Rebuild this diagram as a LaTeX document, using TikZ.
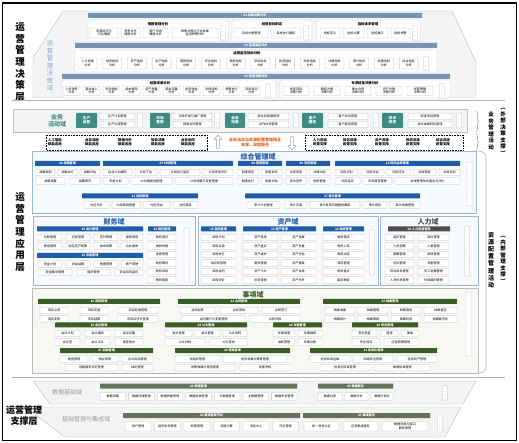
\documentclass[tikz,border=0pt]{standalone}
\usepackage{fontspec}
\setmainfont{Noto Sans CJK SC}
\usepackage{tikz}
\usetikzlibrary{decorations.pathreplacing, shapes.arrows}
\definecolor{steel}{RGB}{118, 146, 180}
\definecolor{deepblue}{RGB}{32, 92, 168}
\definecolor{darkgreen}{RGB}{58, 92, 38}
\definecolor{olivegray}{RGB}{104, 112, 92}
\definecolor{tealbg}{RGB}{62, 140, 132}
\definecolor{hrgray}{RGB}{78, 78, 78}
\definecolor{frameblue}{RGB}{150, 182, 218}
\definecolor{lightblue}{RGB}{128, 164, 206}
\definecolor{orangetext}{RGB}{226, 96, 26}
\definecolor{paleblue}{RGB}{246, 249, 253}
\definecolor{palegreen}{RGB}{247, 248, 243}
\definecolor{palegray}{RGB}{243, 244, 246}
\newcommand{\cellfont}{\fontsize{3.1}{3.6}\selectfont}
\newcommand{\grpfont}{\fontsize{3.4}{4}\selectfont\bfseries}
\newcommand{\morefont}{\fontsize{4}{4}\selectfont}
\tikzset{
  cell/.style={draw=gray!50, fill=white, rounded corners=0.6pt, line width=0.3pt, inner sep=0pt, align=center, font=\cellfont},
  hdr/.style={inner sep=0pt, minimum height=5, text=white, rounded corners=0.5pt, font=\cellfont\bfseries},
  grp/.style={draw=gray!45, fill=white, rounded corners=1.5pt, line width=0.3pt},
  subtitle/.style={inner sep=0pt, font=\grpfont},
  tealbox/.style={fill=tealbg, minimum height=15, inner sep=0pt, rounded corners=0.8pt, text=white, align=center, font=\fontsize{3.6}{4.2}\selectfont\bfseries},
  layertext/.style={align=center, inner sep=0pt, font=\fontsize{9.5}{11.6}\selectfont\bfseries},
  domaintitle/.style={inner sep=0pt, font=\fontsize{7}{8}\selectfont\bfseries},
  itemtext/.style={align=center, inner sep=0pt, font=\fontsize{3.4}{4}\selectfont\bfseries},
  sidetext/.style={align=center, inner sep=0pt, font=\fontsize{5.5}{6.5}\selectfont\bfseries},
  hollow/.style={single arrow, draw=gray!70, fill=white, line width=0.5pt, minimum height=13, minimum width=8, single arrow head extend=1.5pt, inner sep=0.6pt},
}
% cell[height]{name}{x1}{x2}{y}{text}
\newcommand{\cell}[6][6.5]{\node[cell, minimum width={#4-#3}, minimum height=#1] (#2) at ({(#3+#4)/2},#5) {#6};}
% hdr{name}{colour}{x1}{x2}{y}{text}
\newcommand{\hdr}[6]{\node[hdr, fill=#2, minimum width={#4-#3}] (#1) at ({(#3+#4)/2},#5) {#6};}
% more{name}{x}{y1}{y2}
\newcommand{\more}[4]{\node[cell, minimum width=5, minimum height={#4-#3}] (#1) at (#2,{(#3+#4)/2}) {\morefont$\vdots$};}
\newcommand{\tealcell}[4]{\node[tealbox, minimum width={#3-#2}] (#1) at ({(#2+#3)/2},120.5) {#4};}

\begin{document}
\begin{tikzpicture}[x=1pt, y=-1pt, line width=0.4pt]
  \useasboundingbox (0,0) rectangle (519,443);
  \draw[line width=1.3pt] (2.5,3) rectangle (516.5,440.5);

  % decision layer
  \node[layertext] (declayer) at (20,62) {运\\营\\管\\理\\决\\策\\层};
  \filldraw[fill=palegray, draw=gray!55] (63,11) -- (452,11) -- (476,62) -- (476,98) -- (33,98) -- (33,58) -- cycle;
  \node[align=center, inner sep=0pt, text=lightblue, font=\fontsize{6.3}{7.5}\selectfont] (decdomain) at (50,66) {运\\营\\管\\理\\决\\策\\域};

  \hdr{h01}{steel}{88}{422}{15.5}{01 战略决策分析}
  \draw[grp] (88,20) rectangle (228,41);
  \node[subtitle] (s01a) at (158,24) {情报管理分析};
  \cell[10]{c01a}{90}{118}{33}{宏观经济与\\行业情报}
  \cell[10]{c01b}{121}{140}{33}{竞争对手\\情报分析}
  \cell[10]{c01c}{143}{168}{33}{客户市场\\情报分析}
  \cell[10]{c01d}{172}{218}{33}{政策法规与行业标准\\监测预警分析}
  \more{m01a}{223}{28}{38}
  \draw[grp] (232,20) rectangle (312,41);
  \node[subtitle] (s01b) at (272,24) {经营目标制定};
  \cell[10]{c01e}{235}{268}{33}{目标分解管理}
  \cell[10]{c01f}{271}{301}{33}{目标执行跟踪}
  \more{m01b}{306}{28}{38}
  \draw[grp] (317,20) rectangle (420,41);
  \node[subtitle] (s01c) at (368,24) {指标体系管理};
  \cell[10]{c01g}{320}{340}{33}{指标定义}
  \cell[10]{c01h}{343}{364}{33}{指标计算}
  \cell[10]{c01i}{367}{388}{33}{指标展示}
  \cell[10]{c01j}{391}{410}{33}{指标预警}
  \more{m01c}{415}{28}{38}

  \hdr{h02}{steel}{75}{437}{45.5}{02 运营监控分析}
  \draw[grp] (75,50) rectangle (437,72);
  \node[subtitle] (s02) at (247,53.5) {运营监控指标分析};
  \cell[11]{c02a}{78}{97}{63.5}{人力资源\\分析}
  \cell[11]{c02b}{102.7}{121.7}{63.5}{财务指标\\分析}
  \cell[11]{c02c}{127.4}{146.4}{63.5}{资产指标\\分析}
  \cell[11]{c02d}{152.1}{171.1}{63.5}{生产指标\\分析}
  \cell[11]{c02e}{176.8}{195.8}{63.5}{营销指标\\分析}
  \cell[11]{c02f}{201.5}{220.5}{63.5}{安全指标\\分析}
  \cell[11]{c02g}{226.2}{245.2}{63.5}{物资指标\\分析}
  \cell[11]{c02h}{250.9}{269.9}{63.5}{项目指标\\分析}
  \cell[11]{c02i}{275.6}{294.6}{63.5}{投资指标\\分析}
  \cell[11]{c02j}{300.3}{319.3}{63.5}{科技指标\\分析}
  \cell[11]{c02k}{325}{344}{63.5}{法律指标\\分析}
  \cell[11]{c02l}{349.7}{368.7}{63.5}{审计指标\\分析}
  \cell[11]{c02m}{374.4}{393.4}{63.5}{党建指标\\分析}
  \cell[11]{c02n}{399.1}{418.1}{63.5}{综合指标\\分析}
  \more{m02}{426}{58}{69}

  \hdr{h03}{steel}{62}{450}{76.5}{03 经营决策支持}
  \draw[grp] (62,80) rectangle (276,98);
  \node[subtitle] (s03a) at (160,83.5) {经营成果分析};
  \cell[9]{c03a}{63}{80}{91}{人员效率\\分析}
  \cell[9]{c03b}{83}{100}{91}{营业收入\\分析}
  \cell[9]{c03c}{103}{120}{91}{利润指标\\分析}
  \cell[9]{c03d}{123}{140}{91}{成本费用\\分析}
  \cell[9]{c03e}{143}{160}{91}{资产质量\\分析}
  \cell[9]{c03f}{163}{180}{91}{现金流量\\分析}
  \cell[9]{c03g}{183}{200}{91}{投资效益\\分析}
  \cell[9]{c03h}{203}{220}{91}{负债结构\\分析}
  \cell[9]{c03i}{223}{240}{91}{预算执行\\分析}
  \cell[9]{c03j}{243}{260}{91}{风险状况\\分析}
  \more{m03a}{268}{86.5}{95.5}
  \draw[grp] (280,80) rectangle (450,98);
  \node[subtitle] (s03b) at (365,83.5) {专项经营决策分析};
  \cell[9]{c03k}{283}{309}{91}{投资项目\\决策分析}
  \cell[9]{c03l}{314}{340}{91}{融资方案\\决策分析}
  \cell[9]{c03m}{345}{371}{91}{重大合同\\决策分析}
  \cell[9]{c03n}{376}{402}{91}{资产处置\\决策分析}
  \cell[9]{c03o}{407}{433}{91}{经营策略\\决策分析}
  \more{m03b}{442}{86.5}{95.5}

  \draw[gray!60, line width=0.6pt, double, double distance=0.8pt] (12,101) -- (505,101);

  % business activity domain
  \filldraw[fill=palegray, draw=gray!50] (13,109) rectangle (467,132);
  \node[align=center, inner sep=0pt, text=tealbg, font=\fontsize{6}{7}\selectfont\bfseries] (bizlabel) at (57,120.5) {业务\\活动域};
  \tealcell{t1}{76}{97}{生产\\运营}
  \cell{t1a}{100}{135}{116.5}{生产计划管理}
  \cell{t1b}{100}{135}{124.5}{生产过程管理}
  \more{mt1}{140}{113}{128}
  \tealcell{t2}{150}{170}{市场\\营销}
  \cell{t2a}{173}{212}{116.5}{市场开发与推广管理}
  \cell{t2b}{173}{212}{124.5}{销售合同管理}
  \more{mt2}{217}{113}{128}
  \tealcell{t3}{225}{245}{业务\\拓展}
  \cell{t3a}{248}{289}{116.5}{新业务拓展管理}
  \cell{t3b}{248}{289}{124.5}{合作伙伴管理}
  \more{mt3}{296}{113}{128}
  \tealcell{t4}{302}{323}{客户\\服务}
  \cell{t4a}{328}{368}{116.5}{客户关系管理}
  \cell{t4b}{328}{368}{124.5}{客户服务管理}
  \more{mt4}{376}{113}{128}
  \tealcell{t5}{382}{403}{技术\\研发}
  \cell{t5a}{408}{452}{116.5}{研发项目管理}
  \cell{t5b}{408}{452}{124.5}{技术成果转化管理}
  \more{mt5}{459}{113}{128}

  \draw[densely dotted, line width=0.6pt] (46,135) rectangle (207,150);
  \node[itemtext] (ia) at (55,142.5) {人工智能\\赋能应用};
  \node[itemtext] (ib) at (92,142.5) {业务流程\\赋能应用};
  \node[itemtext] (ic) at (125,142.5) {数据分析\\赋能应用};
  \node[itemtext] (id) at (158,142.5) {智能决策\\赋能应用};
  \node[itemtext] (ie) at (188,142.5) {业务协同\\赋能应用};
  \node[hollow, shape border rotate=90] (uparrow) at (218,142.5) {};
  \node[align=center, inner sep=0pt, text=orangetext, font=\fontsize{4}{4.8}\selectfont\bfseries] (fusion) at (255,142.5) {业务活动与资源配置管理相互\\支撑、深度融合};
  \node[hollow, shape border rotate=270] (downarrow) at (292,142.5) {};
  \draw[densely dotted, line width=0.6pt] (305,135) rectangle (463,150);
  \node[itemtext] (ja) at (320,142.5) {人力资源\\配置支撑};
  \node[itemtext] (jb) at (350,142.5) {财务资源\\配置支撑};
  \node[itemtext] (jc) at (382,142.5) {资产资源\\配置支撑};
  \node[itemtext] (jd) at (413,142.5) {物资资源\\配置支撑};
  \node[itemtext] (je) at (443,142.5) {综合资源\\配置支撑};

  \draw[decorate, decoration={brace, amplitude=3pt}, frameblue, line width=0.6pt] (476,111) -- (476,132);
  \draw[decorate, decoration={brace, amplitude=3pt}, frameblue, line width=0.6pt] (476,134) -- (476,150);
  \node[sidetext] (bizact) at (491,131) {业\\务\\管\\理\\活\\动};
  \node[sidetext] (bizsup) at (503,132) {︵\\外\\部\\决\\策\\支\\撑\\︶};
  \draw[frameblue, line width=0.6pt] (476,151) .. controls (484,151) and (486,153) .. (486,160) -- (486,366) .. controls (486,371) and (484,373) .. (478,373);
  \node[sidetext, font=\fontsize{6}{7.2}\selectfont\bfseries] (resact) at (491,260) {资\\源\\配\\置\\管\\理\\活\\动};
  \node[sidetext] (ressup) at (503,260) {︵\\内\\部\\管\\理\\支\\撑\\︶};

  % application layer
  \node[layertext] (applayer) at (20,232) {运\\营\\管\\理\\应\\用\\层};
  \filldraw[fill=paleblue, draw=frameblue] (32,151) rectangle (476,213);
  \node[domaintitle, text=deepblue] (zonghe) at (258,157) {综合管理域};
  \hdr{h06}{deepblue}{35}{100}{163.5}{06 战略管理}
  \hdr{h07}{deepblue}{103}{233}{163.5}{07 计划管理}
  \hdr{h08}{deepblue}{238}{282}{163.5}{08 制度管理}
  \hdr{h09}{deepblue}{286}{330}{163.5}{09 法务管理}
  \hdr{h10}{deepblue}{335}{460}{163.5}{10 风险合规管理}
  \cell{c06a}{36}{55}{172.5}{战略规划}
  \cell{c06b}{58}{77}{172.5}{战略执行}
  \cell{c06c}{80}{100}{172.5}{战略评估}
  \cell{c06d}{36}{65}{181}{战略调整}
  \cell{c06e}{70}{100}{181}{战略研究}
  \cell{c07a}{103}{132}{172.5}{综合计划编制}
  \cell{c07b}{135}{157}{172.5}{计划下达}
  \cell{c07c}{160}{200}{172.5}{计划执行监控}
  \cell{c07d}{203}{233}{172.5}{计划考核评价}
  \cell{c07e}{103}{128}{181}{年度计划}
  \cell{c07f}{131}{172}{181}{中长期规划管理}
  \cell{c07g}{175}{233}{181}{计划调整与变更管理}
  \cell{c08a}{238}{258}{172.5}{制度制定}
  \cell{c08b}{261}{282}{172.5}{制度发布}
  \cell{c08c}{238}{258}{181}{制度执行}
  \cell{c08d}{261}{282}{181}{制度评估}
  \cell{c09a}{286}{306}{172.5}{合同审查}
  \cell{c09b}{309}{330}{172.5}{法律纠纷}
  \cell{c09c}{286}{306}{181}{普法宣传}
  \cell{c09d}{309}{330}{181}{授权管理}
  \cell{c10a}{335}{358}{172.5}{风险识别}
  \cell{c10b}{361}{384}{172.5}{风险评估}
  \cell{c10c}{387}{410}{172.5}{风险应对}
  \cell{c10d}{413}{436}{172.5}{合规审查}
  \cell{c10e}{439}{460}{172.5}{合规培训}
  \cell{c10f}{335}{360}{181}{风险监测}
  \cell{c10g}{363}{392}{181}{风险报告管理}
  \cell{c10h}{395}{460}{181}{合规管理体系建设与评价}
  \more{m06}{469.5}{162}{206}
  \hdr{h11}{deepblue}{82}{198}{196}{11 内控管理}
  \hdr{h17}{deepblue}{245}{420}{196}{17 审计管理}
  \cell{c11a}{84}{109}{205}{内控评价}
  \cell{c11b}{112}{140}{205}{内控缺陷管理}
  \cell{c11c}{143}{170}{205}{内控测试}
  \cell{c11d}{173}{198}{205}{内控报告}
  \cell{c17a}{247}{280}{205}{审计计划管理}
  \cell{c17b}{285}{307}{205}{审计实施}
  \cell{c17c}{310}{360}{205}{审计发现问题整改跟踪}
  \cell{c17d}{363}{387}{205}{审计报告}
  \cell{c17e}{390}{420}{205}{审计档案管理}

  % finance
  \filldraw[fill=paleblue, draw=frameblue] (33,216) rectangle (195,285);
  \node[domaintitle, text=deepblue] (caiwu) at (114,222) {财务域};
  \hdr{h15}{deepblue}{37}{143}{229}{15 会计管理}
  \cell{c15a}{38}{62}{237.5}{总账管理}
  \cell{c15b}{66}{90}{237.5}{应收管理}
  \cell{c15c}{94}{118}{237.5}{应付管理}
  \cell{c15d}{121}{143}{237.5}{报表管理}
  \cell{c15e}{38}{62}{246}{费用报销}
  \cell{c15f}{66}{90}{246}{固定资产核算}
  \cell{c15g}{94}{118}{246}{成本核算}
  \cell{c15h}{121}{143}{246}{合并报表}
  \hdr{h16}{deepblue}{37}{143}{255.5}{16 资金管理}
  \cell{c16a}{38}{62}{264}{资金计划}
  \cell{c16b}{66}{90}{264}{资金结算}
  \cell{c16c}{94}{118}{264}{票据管理}
  \cell{c16d}{121}{143}{264}{账户管理}
  \cell{c16e}{38}{72}{272.5}{资金集中管理}
  \cell{c16f}{77}{110}{272.5}{融资管理}
  \cell{c16g}{115}{143}{272.5}{资金风险监控}
  \hdr{h18}{deepblue}{148}{176}{229}{18 税务管理}
  \cell{c18a}{148}{176}{237.5}{税务登记}
  \cell{c18b}{148}{176}{246}{纳税申报}
  \cell{c18c}{148}{176}{254.5}{发票管理}
  \cell{c18d}{148}{176}{263}{税务筹划}
  \cell{c18e}{148}{176}{271.5}{税务风险}
  \cell{c18f}{148}{176}{280}{税务稽查}
  \more{mcw}{186.5}{228}{282}

  % assets
  \filldraw[fill=paleblue, draw=frameblue] (198,216) rectangle (378,285);
  \node[domaintitle, text=deepblue] (zichan) at (288,222) {资产域};
  \hdr{h19}{deepblue}{201}{236}{229}{19 采购管理}
  \cell{c19a}{201}{236}{237.5}{采购计划}
  \cell{c19b}{201}{236}{246}{采购寻源}
  \cell{c19c}{201}{236}{254.5}{采购执行}
  \cell{c19d}{201}{236}{263}{供应商管理}
  \cell{c19e}{201}{236}{271.5}{采购合同}
  \cell{c19f}{201}{236}{280}{采购评价}
  \hdr{h13}{deepblue}{243}{316}{229}{13 资产管理}
  \cell{c13a}{243}{278}{237.5}{资产新增}
  \cell{c13b}{281}{316}{237.5}{资产调拨}
  \cell{c13c}{243}{278}{246}{资产盘点}
  \cell{c13d}{281}{316}{246}{资产处置}
  \cell{c13e}{243}{278}{254.5}{资产维护}
  \cell{c13f}{281}{316}{254.5}{资产评估}
  \cell{c13g}{243}{278}{263}{租赁管理}
  \cell{c13h}{281}{316}{263}{资产报废}
  \cell{c13i}{243}{278}{271.5}{资产卡片}
  \cell{c13j}{281}{316}{271.5}{资产台账}
  \cell{c13k}{243}{278}{280}{折旧管理}
  \cell{c13l}{281}{316}{280}{资产分析}
  \hdr{h14}{deepblue}{323}{364}{229}{14 物资管理}
  \cell{c14a}{323}{364}{237.5}{物资需求}
  \cell{c14b}{323}{364}{246}{物资入库}
  \cell{c14c}{323}{364}{254.5}{物资出库}
  \cell{c14d}{323}{364}{263}{库存管理}
  \cell{c14e}{323}{364}{271.5}{物资盘点}
  \cell{c14f}{323}{364}{280}{废旧物资}
  \more{mzc}{372}{230}{275}

  % human resources
  \filldraw[fill=paleblue, draw=frameblue] (380,216) rectangle (478,285);
  \node[domaintitle, text=hrgray] (renli) at (428,222) {人力域};
  \hdr{h18r}{hrgray}{388}{450}{229}{18 人力资源管理}
  \cell{crla}{385}{414}{237.5}{组织管理}
  \cell{crlb}{418}{449}{237.5}{岗位管理}
  \cell{crlc}{385}{414}{246}{人员招聘}
  \cell{crld}{418}{449}{246}{人事管理}
  \cell{crle}{385}{414}{254.5}{薪酬管理}
  \cell{crlf}{418}{449}{254.5}{绩效管理}
  \cell{crlg}{385}{414}{263}{培训管理}
  \cell{crlh}{418}{449}{263}{考勤管理}
  \cell{crli}{385}{414}{271.5}{劳动关系管理}
  \cell{crlj}{418}{449}{271.5}{员工发展管理}
  \cell{crlk}{385}{414}{280}{人员信息管理}
  \cell{crll}{418}{449}{280}{社保福利管理}
  \more{mrl}{467}{226}{276}

  % affairs
  \filldraw[fill=palegreen, draw=gray!55] (32,288) rectangle (478,373);
  \node[domaintitle, text=darkgreen] (shixiang) at (253,294.5) {事项域};
  \hdr{h20}{darkgreen}{38}{160}{301.5}{20 项目管理}
  \cell{c20a}{40}{68}{310.5}{项目立项}
  \cell{c20b}{80}{108}{310.5}{项目实施}
  \cell{c20c}{118}{158}{310.5}{项目验收管理}
  \cell{c20d}{40}{68}{319}{项目变更}
  \cell{c20e}{80}{108}{319}{项目结算}
  \cell{c20f}{118}{158}{319}{项目后评价管理}
  \hdr{h21}{darkgreen}{178}{300}{301.5}{21 合同管理}
  \cell{c21a}{180}{215}{310.5}{合同起草}
  \cell{c21b}{220}{258}{310.5}{合同审批}
  \cell{c21c}{262}{300}{310.5}{合同签订}
  \cell{c21d}{182}{245}{319}{合同履行与变更管理}
  \cell{c21e}{250}{300}{319}{合同归档}
  \hdr{h22}{darkgreen}{323}{457}{301.5}{22 档案管理}
  \cell{c22a}{325}{355}{310.5}{档案收集}
  \cell{c22b}{358}{388}{310.5}{档案整理}
  \cell{c22c}{391}{421}{310.5}{档案借阅}
  \cell{c22d}{424}{457}{310.5}{档案鉴定}
  \cell{c22e}{325}{355}{319}{档案统计}
  \cell{c22f}{358}{388}{319}{档案销毁}
  \cell{c22g}{391}{421}{319}{档案利用}
  \cell{c22h}{424}{457}{319}{档案数字化}
  \hdr{h25}{darkgreen}{55}{143}{325}{25 会议管理}
  \cell{c25a}{55}{80}{333.5}{会议计划}
  \cell{c25b}{85}{110}{333.5}{会议通知}
  \cell{c25c}{115}{143}{333.5}{会议纪要}
  \cell{c25d}{55}{80}{342}{会议室}
  \cell{c25e}{85}{110}{342}{会议决议}
  \cell{c25f}{115}{143}{342}{督查督办}
  \hdr{h24}{darkgreen}{165}{247}{325}{24 公文管理}
  \cell{c24a}{165}{192}{333.5}{收文管理}
  \cell{c24b}{195}{220}{333.5}{发文管理}
  \cell{c24c}{223}{247}{333.5}{公文流转}
  \cell{c24d}{165}{205}{342}{公文归档}
  \cell{c24e}{210}{247}{342}{公文查询}
  \hdr{h26}{darkgreen}{273}{322}{325}{26 车辆管理}
  \cell{c26a}{273}{295}{333.5}{车辆调度}
  \cell{c26b}{298}{322}{333.5}{车辆维修}
  \cell{c26c}{273}{295}{342}{油耗管理}
  \cell{c26d}{298}{322}{342}{车辆台账}
  \hdr{h28}{darkgreen}{352}{418}{325}{28 安全管理}
  \cell{c28a}{352}{377}{333.5}{安全检查}
  \cell{c28b}{381}{398}{333.5}{隐患}
  \cell{c28c}{402}{418}{333.5}{事故}
  \cell{c28d}{352}{380}{342}{安全培训}
  \cell{c28e}{384}{418}{342}{应急预案管理}
  \hdr{h27}{darkgreen}{60}{153}{350.5}{27 后勤管理}
  \cell{c27a}{60}{88}{359}{食堂管理}
  \cell{c27b}{92}{118}{359}{物业管理}
  \cell{c27c}{122}{153}{359}{办公用品管理}
  \cell{c27d}{65}{118}{367.5}{后勤服务评价管理}
  \cell{c27e}{122}{153}{367.5}{绿化管理}
  \hdr{h29}{darkgreen}{175}{290}{350.5}{29 党建管理}
  \cell{c29a}{175}{220}{359}{党组织管理}
  \cell{c29b}{223}{287}{359}{党员发展与教育管理}
  \cell{c29c}{175}{235}{367.5}{党费收缴与使用管理}
  \cell{c29d}{240}{290}{367.5}{党建考核}
  \hdr{h31}{darkgreen}{310}{437}{350.5}{31 信息化管理}
  \cell{c31a}{310}{350}{359}{信息系统运维}
  \cell{c31b}{353}{393}{359}{网络安全管理}
  \cell{c31c}{397}{437}{359}{信息资产管理}
  \cell{c31d}{320}{370}{367.5}{信息化项目管理}
  \cell{c31e}{375}{430}{367.5}{数据标准管理}
  \more{msx}{468.5}{292}{356}

  \draw[gray!60, line width=0.6pt, double, double distance=0.8pt] (12,378) -- (505,378);

  % support layer
  \filldraw[fill=palegray, draw=gray!55] (33,381) -- (476,381) -- (463,404) -- (50,404) -- cycle;
  \filldraw[fill=palegray, draw=gray!55] (25,407) -- (461,407) -- (445,437) -- (65,437) -- cycle;
  \node[align=center, inner sep=0pt, font=\fontsize{9}{11}\selectfont\bfseries] (suplayer) at (24,416) {运营管理\\支撑层};
  \node[inner sep=0pt, text=gray!80, font=\fontsize{6}{7}\selectfont] (shuju) at (67,392.5) {数据基础域};
  \hdr{h44}{olivegray}{100}{297}{386}{44 数据管理}
  \cell[8]{c44a}{100}{125.5}{396.5}{数据采集}
  \cell[8]{c44b}{128.6}{154.1}{396.5}{数据存储管理}
  \cell[8]{c44c}{157.2}{182.7}{396.5}{数据质量管理}
  \cell[8]{c44d}{185.8}{211.3}{396.5}{数据标准管理}
  \cell[8]{c44e}{214.4}{239.9}{396.5}{元数据管理}
  \cell[8]{c44f}{243}{268.5}{396.5}{主数据管理}
  \cell[8]{c44g}{271.6}{297}{396.5}{数据安全管理}
  \hdr{h45}{olivegray}{318}{393}{386}{45 数据服务}
  \cell[8]{c45a}{318}{342}{396.5}{数据共享}
  \cell[8]{c45b}{345}{368}{396.5}{数据分析}
  \cell[8]{c45c}{371}{393}{396.5}{数据可视化}
  \more{msj}{445}{386}{400}
  \node[inner sep=0pt, text=gray!80, font=\fontsize{6}{7}\selectfont] (jichu) at (86,419) {基础管理与集成域};
  \hdr{h46}{olivegray}{123}{300}{415.5}{46 基础管理平台}
  \cell[9]{c46a}{125}{151}{426.5}{用户管理}
  \cell[9]{c46b}{154.5}{180.5}{426.5}{组织机构管理}
  \cell[9]{c46c}{184}{210}{426.5}{权限管理}
  \cell[9]{c46d}{213.5}{239.5}{426.5}{流程引擎}
  \cell[9]{c46e}{243}{269}{426.5}{消息中心}
  \cell[9]{c46f}{272.5}{298.5}{426.5}{日志管理}
  \hdr{h47}{olivegray}{303}{430}{415.5}{47 集成服务}
  \cell[9]{c47a}{304}{339}{426.5}{统一身份认证}
  \cell[9]{c47b}{343}{378}{426.5}{应用集成服务}
  \cell[9]{c47c}{382}{428}{426.5}{数据交换与接口\\服务管理}
  \more{mjc}{440}{414}{432}
\end{tikzpicture}
\end{document}
